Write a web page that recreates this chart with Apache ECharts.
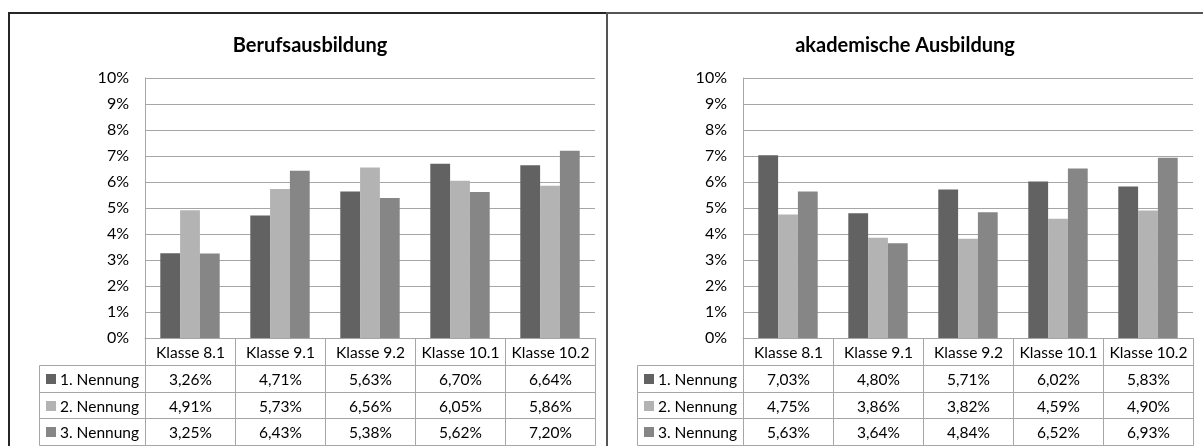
<!DOCTYPE html>
<html>
<head>
<meta charset="utf-8">
<script src="https://cdn.jsdelivr.net/npm/echarts@6/dist/echarts.min.js"></script>
<style>
  html, body { margin: 0; padding: 0; background: #ffffff; }
  #chart { width: 1203px; height: 446px; }
</style>
</head>
<body>
<div id="chart"></div>
<script>
// Classes shown along the category axis and in the table header
const categories = ['Klasse 8.1', 'Klasse 9.1', 'Klasse 9.2', 'Klasse 10.1', 'Klasse 10.2'];
const seriesNames = ['1. Nennung', '2. Nennung', '3. Nennung'];

// Share of mentions (percent) – Berufsausbildung
const beruf1 = [3.26, 4.71, 5.63, 6.70, 6.64];
const beruf2 = [4.91, 5.73, 6.56, 6.05, 5.86];
const beruf3 = [3.25, 6.43, 5.38, 5.62, 7.20];

// Share of mentions (percent) – akademische Ausbildung
const akad1 = [7.03, 4.80, 5.71, 6.02, 5.83];
const akad2 = [4.75, 3.86, 3.82, 4.59, 4.90];
const akad3 = [5.63, 3.64, 4.84, 6.52, 6.93];

// Value axis range in percent
const yMin = 0;
const yMax = 10;
const yStep = 1;

const colors = ['#626262', '#b3b3b3', '#868686'];
const FONT = 'Lato, "Liberation Sans", sans-serif';
const GRID_COLOR = '#a6a6a6';
const LEGEND_W = 106;
const TABLE_FONT = '15.5px ' + FONT;

const panels = [
  { title: 'Berufsausbildung', values: [beruf1, beruf2, beruf3], left: 145, center: 310 },
  { title: 'akademische Ausbildung', values: [akad1, akad2, akad3], left: 743, center: 905 }
];

const fmt = v => v.toFixed(2).replace('.', ',') + '%';

const grids = [], xAxes = [], yAxes = [], series = [], graphics = [];

// Panel frames
graphics.push({ type: 'rect', shape: { x: 9, y: 13, width: 598, height: 520 },
  style: { fill: 'none', stroke: '#262626', lineWidth: 2 }, silent: true });
graphics.push({ type: 'rect', shape: { x: 607, y: 13, width: 640, height: 520 },
  style: { fill: 'none', stroke: '#555555', lineWidth: 2 }, silent: true });

panels.forEach((p, pi) => {
  const gChart = pi * 2, gTable = pi * 2 + 1;

  graphics.push({
    type: 'text', x: p.center, y: 46, silent: true,
    style: { text: p.title, font: 'bold 20px ' + FONT, fill: '#000',
      align: 'center', verticalAlign: 'middle', textAlign: 'center', textVerticalAlign: 'middle' }
  });

  grids.push({ left: p.left, top: 78, width: 450, height: 260 });
  grids.push({ left: p.left, top: 338, width: 450, height: 107 });

  xAxes.push({
    type: 'category', gridIndex: gChart, data: categories,
    axisLabel: { show: false }, axisTick: { show: false },
    axisLine: { show: true, lineStyle: { color: GRID_COLOR } }
  });
  xAxes.push({
    type: 'category', gridIndex: gTable, data: categories, show: false
  });

  yAxes.push({
    type: 'value', gridIndex: gChart, min: yMin, max: yMax, interval: yStep,
    axisLabel: { formatter: '{value}%', fontSize: 16, fontFamily: FONT, color: '#000', margin: 16 },
    axisTick: { show: false },
    axisLine: { show: true, lineStyle: { color: GRID_COLOR } },
    splitLine: { show: true, lineStyle: { color: GRID_COLOR, width: 1 } }
  });
  yAxes.push({
    type: 'category', gridIndex: gTable, inverse: true,
    data: [''].concat(seriesNames), show: false
  });

  p.values.forEach((vals, si) => {
    series.push({
      type: 'bar', name: seriesNames[si], xAxisIndex: gChart, yAxisIndex: gChart,
      data: vals, barGap: '0%', barCategoryGap: '34%',
      itemStyle: { color: colors[si] }, animation: false
    });
  });

  // Data table below the chart: header row, legend column and value cells
  const cells = [];
  categories.forEach((c, ci) => cells.push({ kind: 'head', col: ci, row: 0, text: c }));
  p.values.forEach((vals, si) => {
    cells.push({ kind: 'legend', col: 0, row: si + 1, text: seriesNames[si], color: colors[si] });
    vals.forEach((v, ci) => cells.push({ kind: 'value', col: ci, row: si + 1, text: fmt(v) }));
  });

  series.push({
    type: 'custom', xAxisIndex: gTable, yAxisIndex: gTable, clip: false, animation: false,
    data: cells.map(c => [c.col, c.row]),
    renderItem: function (params, api) {
      const cell = cells[params.dataIndex];
      const ctr = api.coord([api.value(0), api.value(1)]);
      const sz = api.size([1, 1]);
      let x0 = ctr[0] - sz[0] / 2, cw = sz[0];
      const y0 = ctr[1] - sz[1] / 2, ch = sz[1];
      if (cell.kind === 'legend') { x0 -= LEGEND_W; cw = LEGEND_W; }
      const xa = Math.round(x0) + 0.5, xb = Math.round(x0 + cw) + 0.5;
      const ya = Math.round(y0) + 0.5, yb = Math.round(y0 + ch) + 0.5;
      const cy = (ya + yb) / 2;
      const children = [{
        type: 'rect', shape: { x: xa, y: ya, width: xb - xa, height: yb - ya },
        style: { fill: 'none', stroke: GRID_COLOR, lineWidth: 1 }
      }];
      if (cell.kind === 'legend') {
        children.push({
          type: 'rect', shape: { x: Math.round(x0) + 7, y: Math.round(cy) - 5, width: 10, height: 10 },
          style: { fill: cell.color }
        });
        children.push({
          type: 'text', x: Math.round(x0) + 21, y: cy + 1,
          style: { text: cell.text, font: TABLE_FONT, fill: '#000',
            align: 'left', verticalAlign: 'middle', textAlign: 'left', textVerticalAlign: 'middle' }
        });
      } else {
        children.push({
          type: 'text', x: (xa + xb) / 2, y: cy + 1,
          style: { text: cell.text, font: TABLE_FONT, fill: '#000',
            align: 'center', verticalAlign: 'middle', textAlign: 'center', textVerticalAlign: 'middle' }
        });
      }
      return { type: 'group', children: children };
    }
  });
});

const chart = echarts.init(document.getElementById('chart'), null, { renderer: 'canvas' });
chart.setOption({
  animation: false,
  backgroundColor: '#ffffff',
  grid: grids,
  xAxis: xAxes,
  yAxis: yAxes,
  series: series,
  graphic: graphics
});
</script>
</body>
</html>
